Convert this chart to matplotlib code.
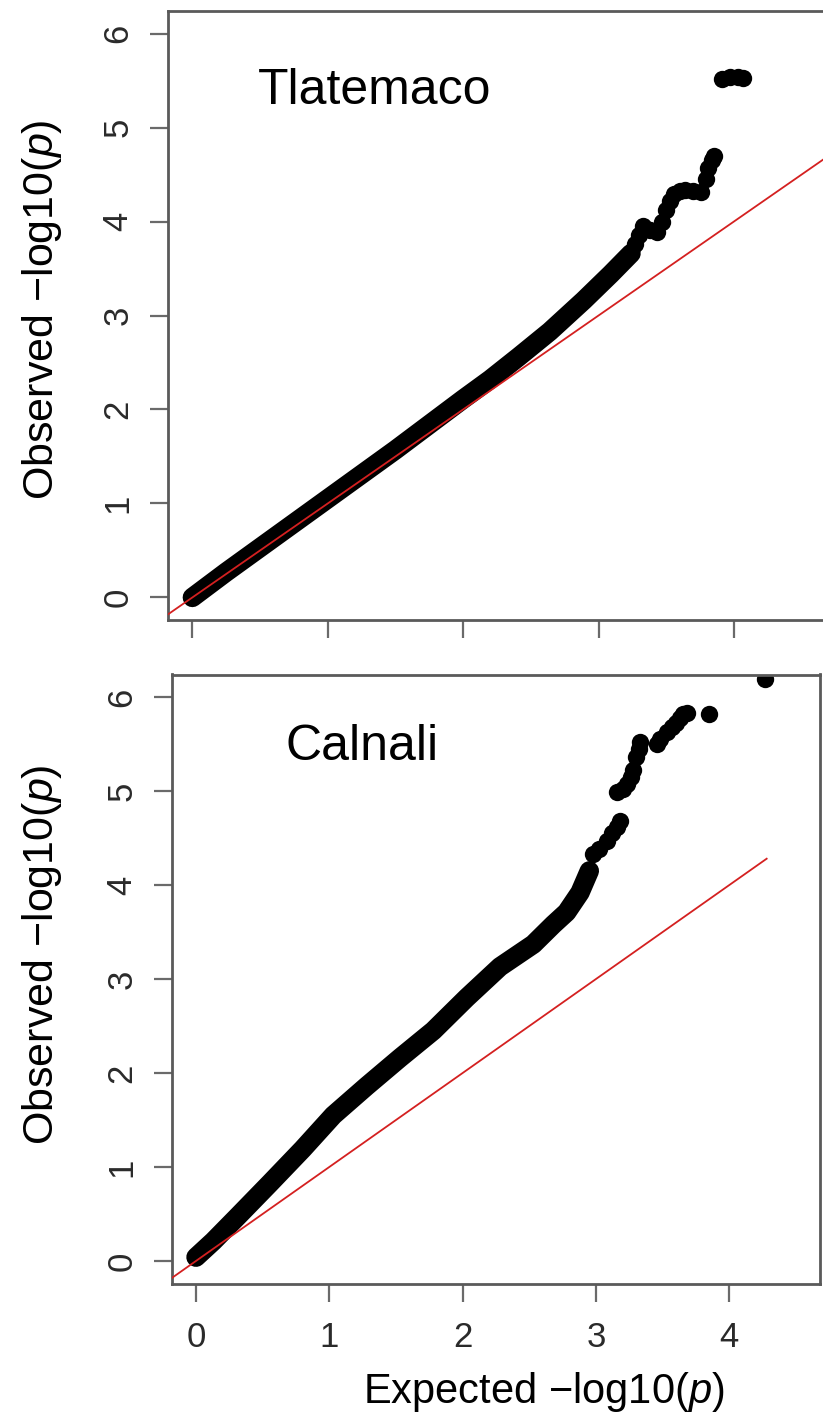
import numpy as np
import matplotlib.pyplot as plt

plt.rcParams['font.family'] = ['Liberation Sans', 'DejaVu Sans']
plt.rcParams['mathtext.fontset'] = 'custom'
plt.rcParams['mathtext.rm'] = 'Liberation Sans'
plt.rcParams['mathtext.it'] = 'Liberation Sans:italic'

# Tlatemaco - dense part of the QQ band (expected, observed)
tla_band_x = [0.00, 0.25, 0.50, 0.75, 1.00, 1.25, 1.50, 1.75, 2.00, 2.20, 2.41, 2.64, 2.89, 3.09, 3.24]
tla_band_y = [0.00, 0.27, 0.53, 0.79, 1.05, 1.31, 1.57, 1.84, 2.11, 2.32, 2.56, 2.83, 3.16, 3.44, 3.66]
# Tlatemaco - sparse upper tail
tla_tail_x = [3.27, 3.30, 3.33, 3.38, 3.43, 3.47, 3.50, 3.53, 3.56, 3.60, 3.64, 3.70, 3.76,
              3.79, 3.81, 3.84, 3.85, 3.91, 3.97, 4.03, 4.07]
tla_tail_y = [3.76, 3.86, 3.95, 3.91, 3.89, 4.00, 4.12, 4.22, 4.29, 4.33, 4.34, 4.32, 4.31,
              4.45, 4.57, 4.65, 4.70, 5.52, 5.54, 5.54, 5.53]

# Calnali
cal_band_x = [0.00, 0.13, 0.31, 0.55, 0.80, 1.03, 1.28, 1.53, 1.78, 2.03, 2.28, 2.53, 2.68,
              2.78, 2.88, 2.95]
cal_band_y = [0.04, 0.21, 0.47, 0.82, 1.19, 1.55, 1.86, 2.16, 2.45, 2.80, 3.13, 3.37, 3.58,
              3.71, 3.92, 4.15]
cal_tail_x = [2.98, 3.02, 3.08, 3.12, 3.16, 3.18, 3.16, 3.20, 3.23, 3.26, 3.28, 3.30, 3.32, 3.33,
              3.46, 3.48, 3.53, 3.57, 3.60, 3.63, 3.65, 3.68, 3.85, 4.27]
cal_tail_y = [4.33, 4.38, 4.47, 4.55, 4.62, 4.68, 4.99, 5.02, 5.08, 5.15, 5.22, 5.36, 5.45, 5.52,
              5.50, 5.55, 5.63, 5.68, 5.72, 5.78, 5.82, 5.83, 5.82, 6.19]
cal_null_max = 4.28

W, H = 823, 1417
fig = plt.figure(figsize=(W / 100, H / 100), dpi=100)


def px_axes(l, t, r, b):
    return fig.add_axes([l / W, 1 - b / H, (r - l) / W, (b - t) / H])


def style(ax, xlabels):
    ax.set_xlim(-0.18, 4.68)
    ax.set_ylim(-0.24, 6.24)
    ax.set_xticks(range(5))
    ax.set_yticks(range(7))
    for s in ax.spines.values():
        s.set_color('#5a5a5a')
        s.set_linewidth(2)
    ax.tick_params(axis='both', direction='out', length=13, width=1.6, color='#6a6a6a',
                   labelsize=25, labelcolor='#2a2a2a')
    ax.tick_params(axis='y', labelrotation=90, pad=11)
    ax.tick_params(axis='x', pad=14, labelbottom=xlabels)
    for lab in ax.get_yticklabels():
        lab.set_verticalalignment('center')


ax1 = px_axes(168, 11, 826, 620)
ax1.plot(tla_band_x, tla_band_y, color='black', lw=14, solid_capstyle='round',
         solid_joinstyle='round', zorder=2)
ax1.plot(tla_tail_x, tla_tail_y, 'o', color='black', ms=12.5, mew=0, zorder=2)
ax1.axline((0, 0), slope=1, color='#d42020', lw=1.3, zorder=3)
ax1.text(0.485, 5.25, 'Tlatemaco', fontsize=36, ha='left', va='baseline')
style(ax1, False)

ax2 = px_axes(172, 674.5, 820, 1283.5)
ax2.plot(cal_band_x, cal_band_y, color='black', lw=14, solid_capstyle='round',
         solid_joinstyle='round', zorder=2)
ax2.plot(cal_tail_x, cal_tail_y, 'o', color='black', ms=12.5, mew=0, zorder=2)
ax2.plot([-0.18, cal_null_max], [-0.18, cal_null_max], color='#d42020', lw=1.3, zorder=3)
ax2.text(0.668, 5.33, 'Calnali', fontsize=36, ha='left', va='baseline')
style(ax2, True)

ylab = 'Observed \u2212log10($\\mathit{p}$)'
fig.text(42 / W, 1 - 310 / H, ylab, rotation=90, fontsize=31, ha='center', va='center')
fig.text(42 / W, 1 - 955 / H, ylab, rotation=90, fontsize=31, ha='center', va='center')
fig.text(544 / W, 1 - 1403 / H, 'Expected \u2212log10($\\mathit{p}$)', fontsize=30,
         ha='center', va='baseline')

fig.savefig('out.png', dpi=100)
